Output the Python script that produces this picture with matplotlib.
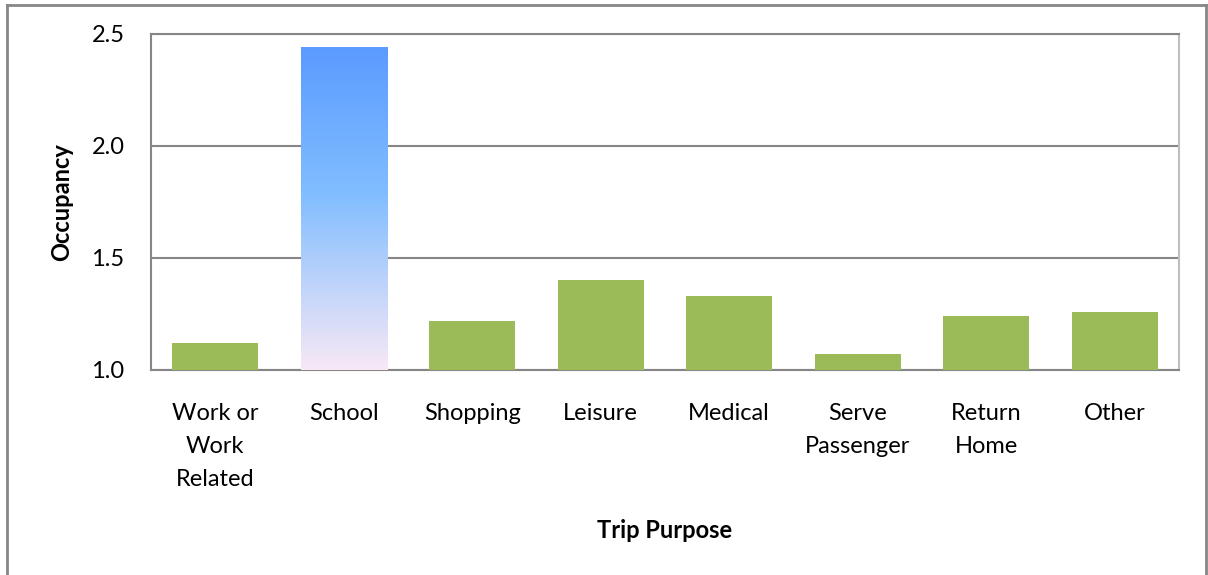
import numpy as np
import matplotlib.pyplot as plt
from matplotlib.colors import LinearSegmentedColormap
from matplotlib.lines import Line2D

plt.rcParams['font.family'] = ['Lato', 'DejaVu Sans']

purposes = ['Work or\nWork\nRelated', 'School', 'Shopping', 'Leisure', 'Medical',
            'Serve\nPassenger', 'Return\nHome', 'Other']
occupancy = [1.12, 2.44, 1.22, 1.40, 1.33, 1.07, 1.24, 1.26]
highlight = 'School'

fig = plt.figure(figsize=(12.08, 5.75), dpi=100)
ax = fig.add_axes([151/1208, 1 - 370/575, (1179-151)/1208, (370-34)/575])

x = np.arange(len(purposes))
base = 1.0
heights = [v - base for v in occupancy]
bars = ax.bar(x, heights, bottom=base, width=0.67, color='#9BBB59', zorder=3)

# gradient fill for the highlighted bar
grad = LinearSegmentedColormap.from_list('school', [(0.0, '#F8E8F6'), (0.55, '#80BDFF'), (1.0, '#5B9BFF')])
for b, name in zip(bars, purposes):
    if name == highlight:
        b.set_facecolor('none')
        x0 = b.get_x()
        img = np.linspace(0, 1, 256).reshape(-1, 1)
        ax.imshow(img, cmap=grad, origin='lower', aspect='auto', zorder=3,
                  extent=(x0, x0 + b.get_width(), base, base + b.get_height()))
ax.set_xlim(-0.5, len(purposes) - 0.5)
ax.set_ylim(1.0, 2.5)

ax.set_yticks([1.0, 1.5, 2.0, 2.5])
ax.set_yticklabels(['1.0', '1.5', '2.0', '2.5'])
ax.set_xticks(x)
ax.set_xticklabels(purposes, linespacing=1.7)
ax.tick_params(axis='both', length=0, labelsize=17)
ax.tick_params(axis='x', pad=24)
ax.tick_params(axis='y', pad=19)
ax.yaxis.grid(True, color='#868686', linewidth=1.5, zorder=0)
for s in ax.spines.values():
    s.set_color('#868686')
    s.set_linewidth(1.5)
ax.spines['right'].set_color('#BFBFBF')

ax.set_ylabel('Occupancy', fontsize=17, fontweight='bold', labelpad=13)
fig.text(665/1208, 1 - 530/575, 'Trip Purpose', fontsize=17, fontweight='bold',
         ha='center', va='center')

# outer chart frame
fc = '#868686'
fig.add_artist(Line2D([7/1208, 7/1208], [0, 1 - 5/575], color=fc, lw=2, transform=fig.transFigure))
fig.add_artist(Line2D([7/1208, 1205.5/1208], [1 - 5/575, 1 - 5/575], color=fc, lw=2, transform=fig.transFigure))
fig.add_artist(Line2D([1205.5/1208, 1205.5/1208], [0, 1 - 5/575], color=fc, lw=2, transform=fig.transFigure))

fig.savefig('out.png', dpi=100)
